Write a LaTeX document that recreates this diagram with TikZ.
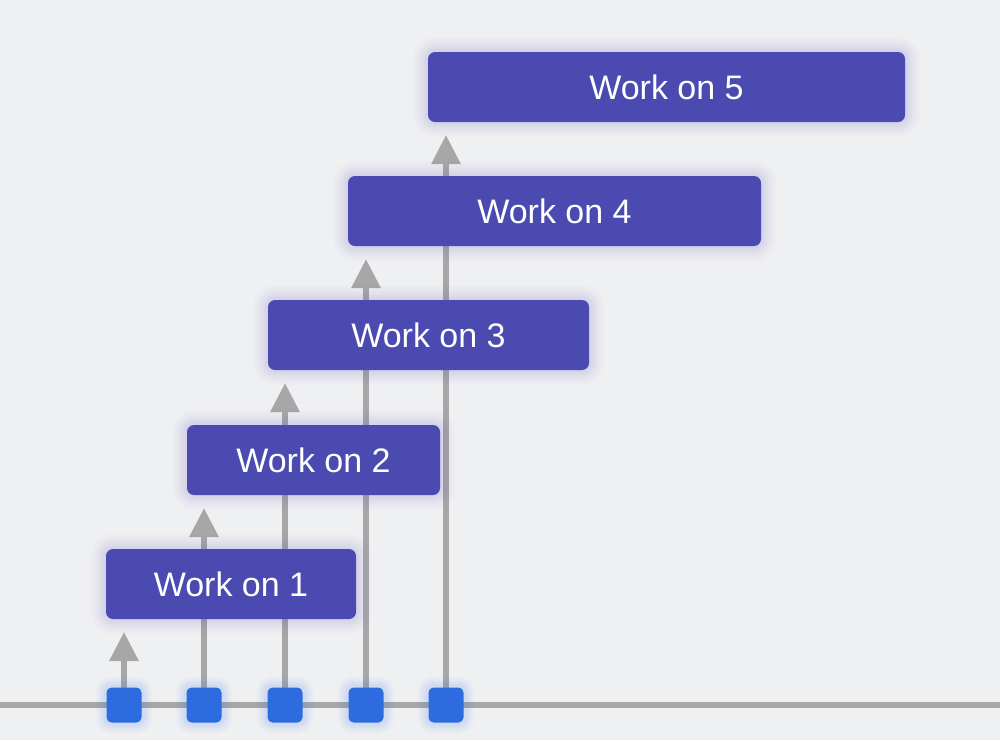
\documentclass[tikz,border=0pt]{standalone}
\usepackage{fontspec}
\setmainfont{Liberation Sans}
\usetikzlibrary{arrows.meta}
\definecolor{bgc}{HTML}{EFF0F1}
\definecolor{boxc}{HTML}{4B4AB0}
\definecolor{sqc}{HTML}{2D6CDF}
\definecolor{linec}{HTML}{A7A7A8}
\definecolor{boxglowc}{HTML}{5B50C8}
\definecolor{sqglowc}{HTML}{3A7BF0}
\pgfdeclarelayer{bg}
\pgfsetlayers{bg,main}
\begin{document}
\begin{tikzpicture}[x=1pt,y=-1pt,
  boxglow/.style={
    preaction={draw=boxglowc, draw opacity=0.015, line width=30pt},
    preaction={draw=boxglowc, draw opacity=0.02, line width=25pt},
    preaction={draw=boxglowc, draw opacity=0.025, line width=20pt},
    preaction={draw=boxglowc, draw opacity=0.03, line width=15pt},
    preaction={draw=boxglowc, draw opacity=0.035, line width=10pt},
    preaction={draw=boxglowc, draw opacity=0.04, line width=5pt}},
  sqglow/.style={
    preaction={draw=sqglowc, draw opacity=0.03, line width=22pt},
    preaction={draw=sqglowc, draw opacity=0.04, line width=17pt},
    preaction={draw=sqglowc, draw opacity=0.05, line width=12pt},
    preaction={draw=sqglowc, draw opacity=0.06, line width=7pt}},
  wbox/.style={boxglow, fill=boxc, draw=none, rounded corners=7pt,
    minimum height=70pt, inner sep=0pt, text=white,
    font=\fontsize{34}{40}\selectfont},
  sq/.style={sqglow, fill=sqc, draw=none, rounded corners=5pt,
    minimum width=35pt, minimum height=35pt, inner sep=0pt},
  conn/.style={draw=linec, line width=6pt,
    -{Triangle[length=29pt,width=28pt]}},
  axis/.style={draw=linec, line width=6pt}
]
\useasboundingbox (0,0) rectangle (1000,740);

% end points
\coordinate (hl) at (0,705);
\coordinate (hr) at (1000,705);
\coordinate (t1) at (124,632);
\coordinate (t2) at (204,508);
\coordinate (t3) at (285,383);
\coordinate (t4) at (366,259);
\coordinate (t5) at (446,135);

% boxes
\node[wbox, minimum width=250pt] (b1) at (231,584) {Work on 1};
\node[wbox, minimum width=253pt] (b2) at (313.5,460) {Work on 2};
\node[wbox, minimum width=321pt] (b3) at (428.5,335) {Work on 3};
\node[wbox, minimum width=413pt] (b4) at (554.5,211) {Work on 4};
\node[wbox, minimum width=477pt] (b5) at (666.5,87) {Work on 5};

% squares
\node[sq] (s1) at (124,705) {};
\node[sq] (s2) at (204,705) {};
\node[sq] (s3) at (285,705) {};
\node[sq] (s4) at (366,705) {};
\node[sq] (s5) at (446,705) {};

\begin{pgfonlayer}{bg}
  \fill[bgc] (0,0) rectangle (1000,740);
  \draw[axis] (hl) -- (hr);
  \draw[conn] (s1.center) -- (t1);
  \draw[conn] (s2.center) -- (t2);
  \draw[conn] (s3.center) -- (t3);
  \draw[conn] (s4.center) -- (t4);
  \draw[conn] (s5.center) -- (t5);
\end{pgfonlayer}
\end{tikzpicture}
\end{document}
